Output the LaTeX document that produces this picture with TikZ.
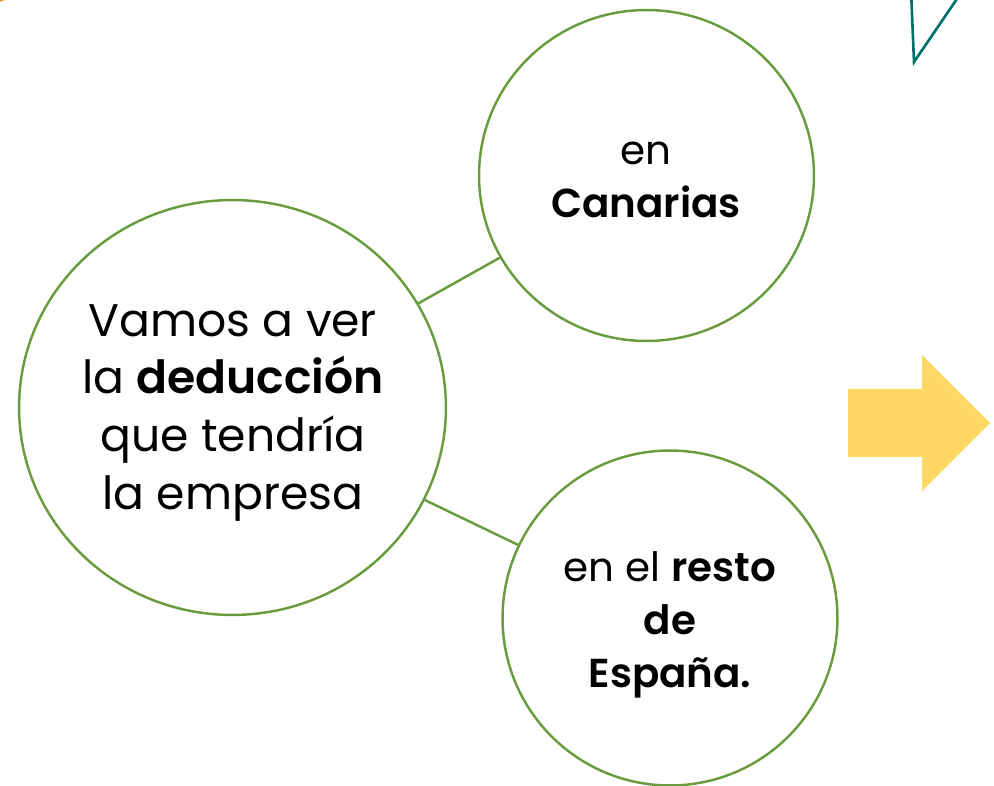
\documentclass[tikz,border=0pt]{standalone}
\usepackage{fontspec}
\usetikzlibrary{shapes.geometric}
\setmainfont{Poppins}[BoldFont={Poppins SemiBold}]
\definecolor{leafgreen}{RGB}{104,156,62}
\definecolor{sunyellow}{RGB}{253,216,101}
\definecolor{tealline}{RGB}{0,112,106}
\definecolor{orangebit}{RGB}{247,148,30}
\begin{document}
\begin{tikzpicture}[
  x=0.02cm, y=-0.02cm,
  bubble/.style={ellipse, draw=leafgreen, line width=1.4pt, inner sep=0pt},
  bubbletext/.style={align=center, text=black, inner sep=0pt},
  link/.style={draw=leafgreen, line width=1.4pt}
]
\clip (0,0) rectangle (994,786);

% Decorations at the edges
\fill[orangebit] (-2,-10) circle (12);
\draw[tealline, line width=1.5pt] (911,-10) -- (914,62) -- (963,-10);

% Circles
\node[bubble, minimum width=8.54cm, minimum height=8.3cm] (main) at (232.5,407.5) {};
\node[bubble, minimum width=6.7cm, minimum height=6.62cm] (canarias) at (646.5,175.5) {};
\node[bubble, minimum width=6.7cm, minimum height=6.7cm] (espana) at (670,618) {};

% Texts
\node[bubbletext, font=\fontsize{26}{33}\selectfont] (maintext) at (233,413)
  {Vamos a ver\\la \textbf{deducción}\\que tendría\\la empresa};
\node[bubbletext, font=\fontsize{23}{30}\selectfont] (canariastext) at (646,180)
  {en\\\textbf{Canarias}};
\node[bubbletext, font=\fontsize{23}{30}\selectfont] (espanatext) at (670,625)
  {en el \textbf{resto}\\\textbf{de}\\\textbf{España.}};

% Links
\draw[link] (main) -- (canarias);
\draw[link] (main) -- (espana);

% Arrow
\fill[sunyellow] (848,389) -- (922,389) -- (922,355) -- (990,423) -- (922,491) -- (922,457) -- (848,457) -- cycle;

\end{tikzpicture}
\end{document}
